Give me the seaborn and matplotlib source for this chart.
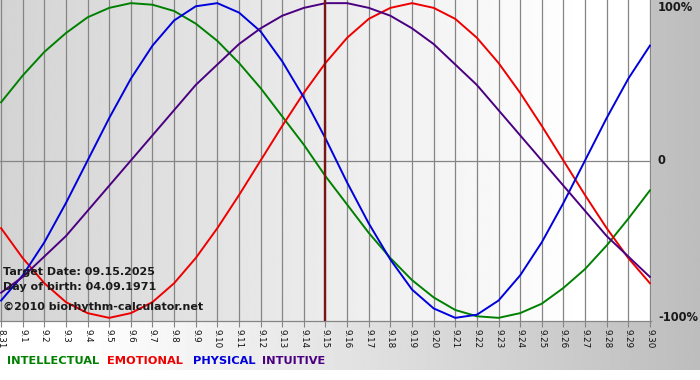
import numpy as np
import pandas as pd
import seaborn as sns

import matplotlib
matplotlib.use('Agg')
import matplotlib.pyplot as plt

# day labels 8.31 .. 9.30
days = ['8.31', '9.1', '9.2', '9.3', '9.4', '9.5', '9.6', '9.7', '9.8', '9.9', '9.10',
        '9.11', '9.12', '9.13', '9.14', '9.15', '9.16', '9.17', '9.18', '9.19', '9.20',
        '9.21', '9.22', '9.23', '9.24', '9.25', '9.26', '9.27', '9.28', '9.29', '9.30']

intellectual = [0.37, 0.54, 0.69, 0.81, 0.91, 0.97, 1.00, 0.99, 0.95, 0.87, 0.76,
                0.62, 0.46, 0.28, 0.10, -0.10, -0.28, -0.46, -0.62, -0.76, -0.87,
                -0.95, -0.99, -1.00, -0.97, -0.91, -0.81, -0.69, -0.54, -0.37, -0.19]
emotional = [-0.43, -0.62, -0.78, -0.90, -0.97, -1.00, -0.97, -0.90, -0.78, -0.62, -0.43,
             -0.22, 0.00, 0.22, 0.43, 0.62, 0.78, 0.90, 0.97, 1.00, 0.97,
             0.90, 0.78, 0.62, 0.43, 0.22, 0.00, -0.22, -0.43, -0.62, -0.78]
physical = [-0.89, -0.73, -0.52, -0.27, 0.00, 0.27, 0.52, 0.73, 0.89, 0.98, 1.00,
            0.94, 0.82, 0.63, 0.40, 0.14, -0.14, -0.40, -0.63, -0.82, -0.94,
            -1.00, -0.98, -0.89, -0.73, -0.52, -0.27, 0.00, 0.27, 0.52, 0.73]
intuitive = [-0.84, -0.74, -0.61, -0.48, -0.32, -0.16, 0.00, 0.16, 0.32, 0.48, 0.61,
             0.74, 0.84, 0.92, 0.97, 1.00, 1.00, 0.97, 0.92, 0.84, 0.74,
             0.61, 0.48, 0.32, 0.16, 0.00, -0.16, -0.32, -0.48, -0.61, -0.74]

cycles = ['INTELLECTUAL', 'EMOTIONAL', 'PHYSICAL', 'INTUITIVE']
colors = {'INTELLECTUAL': '#008000', 'EMOTIONAL': '#ee0000',
          'PHYSICAL': '#0000dd', 'INTUITIVE': '#4b0082'}
target_idx = 15
y_ticks = [1, 0, -1]
y_labels = ['100%', '0', '-100%']

W, H = 700, 380
fig = plt.figure(figsize=(W / 100, H / 100), dpi=100)
fig.patch.set_facecolor('white')

# figure background gradient (white -> gray, left to right)
bg = fig.add_axes([0, 10 / H, 1, 370 / H], zorder=-5)
g = np.clip((np.linspace(0, 1, 400) - 0.12) / 0.88, 0, 1)
g = 1.0 - g * (1.0 - 0.74)
bg.imshow(g[None, :], aspect='auto', cmap='gray', vmin=0, vmax=1, extent=[0, 1, 0, 1])
bg.set_axis_off()

ax = fig.add_axes([0, (H - 321) / H, 651 / W, 321 / H])
xmin, xmax = -0.05, 30.05
ymin, ymax = -1.02, 1.02

# plot area gradient (gray -> white)
pg = np.clip(np.linspace(0, 1, 400) / 0.9, 0, 1)
pg = 0.83 + pg * 0.17
ax.imshow(pg[None, :], aspect='auto', cmap='gray', vmin=0, vmax=1,
          extent=[xmin, xmax, ymin, ymax], zorder=0)

df = pd.DataFrame({'day': np.arange(len(days)), 'INTELLECTUAL': intellectual,
                   'EMOTIONAL': emotional, 'PHYSICAL': physical, 'INTUITIVE': intuitive})
long = df.melt(id_vars='day', var_name='cycle', value_name='value')

for i in range(len(days)):
    ax.axvline(i, color='#858585', lw=0.9, zorder=1)
ax.axhline(0, color='#858585', lw=0.9, zorder=1)

sns.lineplot(data=long, x='day', y='value', hue='cycle', hue_order=cycles,
             palette=colors, legend=False, ax=ax, linewidth=1.4, zorder=3)

ax.axvline(target_idx, color='#7a1515', lw=1.7, zorder=4)

ax.set_xlim(xmin, xmax)
ax.set_ylim(ymin, ymax)
ax.set_xlabel('')
ax.set_ylabel('')
ax.set_xticks(range(len(days)))
ax.set_xticklabels(days, rotation=-90, fontsize=6.3, color='#111111')
ax.tick_params(axis='x', length=4, width=0.8, color='#858585', pad=2)
ax.set_yticks([])
for s in ['top', 'left', 'right']:
    ax.spines[s].set_visible(False)
ax.spines['bottom'].set_color('#858585')
ax.spines['bottom'].set_linewidth(0.9)

# right side percent labels
for v, lab in zip(y_ticks, y_labels):
    yy = (v - ymin) / (ymax - ymin)
    va = 'top' if v == 1 else 'center'
    ax.text(1 + 7 / 651, yy if v != 1 else 1.0 - 1 / 321, lab, transform=ax.transAxes,
            ha='left', va=va, fontsize=8.3, fontweight='bold', color='#1a1a1a', clip_on=False)

# info text
info = ['Target Date: 09.15.2025', 'Day of birth: 04.09.1971', '\u00a92010 biorhythm-calculator.net']
info_y = [272, 287, 307]
for t, yp in zip(info, info_y):
    fig.text(3 / W, 1 - yp / H, t, ha='left', va='center', fontsize=8.0,
             fontweight='bold', color='#1a1a1a')

# legend words
leg_x = [7, 107, 193, 262]
for name, xp in zip(cycles, leg_x):
    fig.text(xp / W, 1 - 361 / H, name, ha='left', va='center', fontsize=8.2,
             fontweight='bold', color=colors[name])

fig.savefig('out.png', dpi=100)
